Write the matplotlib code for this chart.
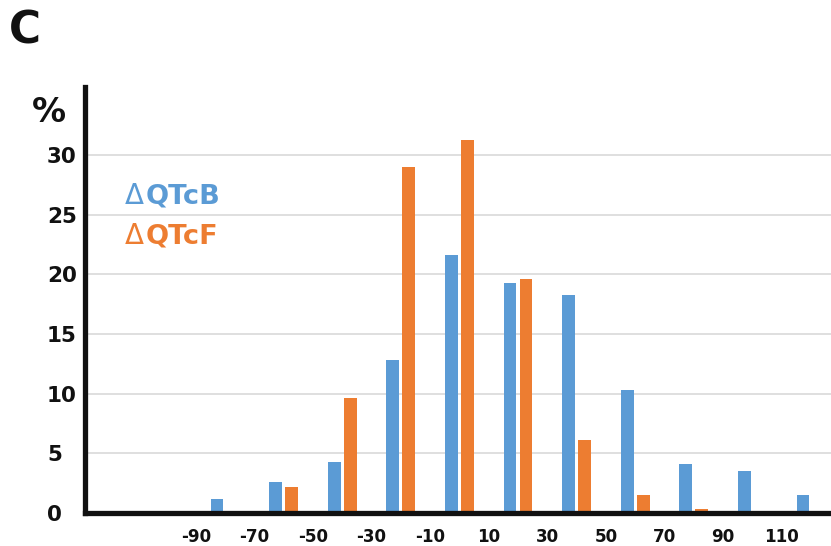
import numpy as np
import matplotlib.pyplot as plt

plt.rcParams['font.family'] = ['DejaVu Sans']

# Bin centres of the QTc change histogram (ms) and the percentages per bin
bins = [-80, -60, -40, -20, 0, 20, 40, 60, 80, 100, 120]
qtcb = [1.2, 2.6, 4.3, 12.8, 21.6, 19.3, 18.3, 10.3, 4.1, 3.5, 1.5]
qtcf = [0.0, 2.2, 9.6, 29.0, 31.3, 19.6, 6.1, 1.5, 0.3, 0.0, 0.0]

xtick_vals = [-90, -70, -50, -30, -10, 10, 30, 50, 70, 90, 110]
xtick_labels = ['-90', '-70', '-50', '-30', '-10', '10', '30', '50', '70', '90', '110']
ytick_vals = [0, 5, 10, 15, 20, 25, 30]

blue = '#5B9BD5'
orange = '#ED7D31'

W, H = 831, 546
fig = plt.figure(figsize=(W / 100, H / 100), dpi=100)
ax = fig.add_axes([84.5 / W, 1 - 513 / H, 1 - 84.5 / W, (513 - 87) / H])

x = np.array(bins, dtype=float)
width = 4.35
ax.bar(x - 2.73, qtcb, width=width, color=blue, zorder=3)
ax.bar(x + 2.73, qtcf, width=width, color=orange, zorder=3)

ax.set_xlim(-127.95, 126.8)
ax.set_ylim(0, 35.7)

# light horizontal grid
for v in ytick_vals[1:]:
    ax.axhline(v, color='#d9d9d9', lw=1.2, zorder=1)

for side in ['top', 'right']:
    ax.spines[side].set_visible(False)
for side in ['left', 'bottom']:
    ax.spines[side].set_linewidth(3.8)
    ax.spines[side].set_color('#111111')
    ax.spines[side].set_zorder(4)

ax.set_xticks(xtick_vals)
ax.set_xticklabels(xtick_labels, fontsize=12.1, fontweight='bold', color='#111111')
ax.tick_params(axis='x', length=0, pad=10.5)

ax.set_yticks(ytick_vals)
ax.set_yticklabels([str(v) for v in ytick_vals], fontsize=15.5, fontweight='bold',
                   color='#111111')
ax.tick_params(axis='y', length=0, pad=27)
for lab in ax.get_yticklabels():
    lab.set_horizontalalignment('left')

# axis unit and panel letter
fig.text(32 / W, 1 - 112.5 / H, '%', fontsize=24.5, fontweight='bold', va='center',
         ha='left', color='#111111')
fig.text(9 / W, 1 - 31 / H, 'C', fontsize=31.5, fontweight='bold', va='center',
         ha='left', color='#111111')

# series labels
for label, col, ypx in [('QTcB', blue, 196), ('QTcF', orange, 236.5)]:
    fig.text(125 / W, 1 - ypx / H, '\u0394', fontsize=20, color=col, va='center', ha='left')
    fig.text(146 / W, 1 - ypx / H, label, fontsize=19.5, fontweight='bold', color=col,
             va='center', ha='left')

fig.savefig('out.png', dpi=100)
